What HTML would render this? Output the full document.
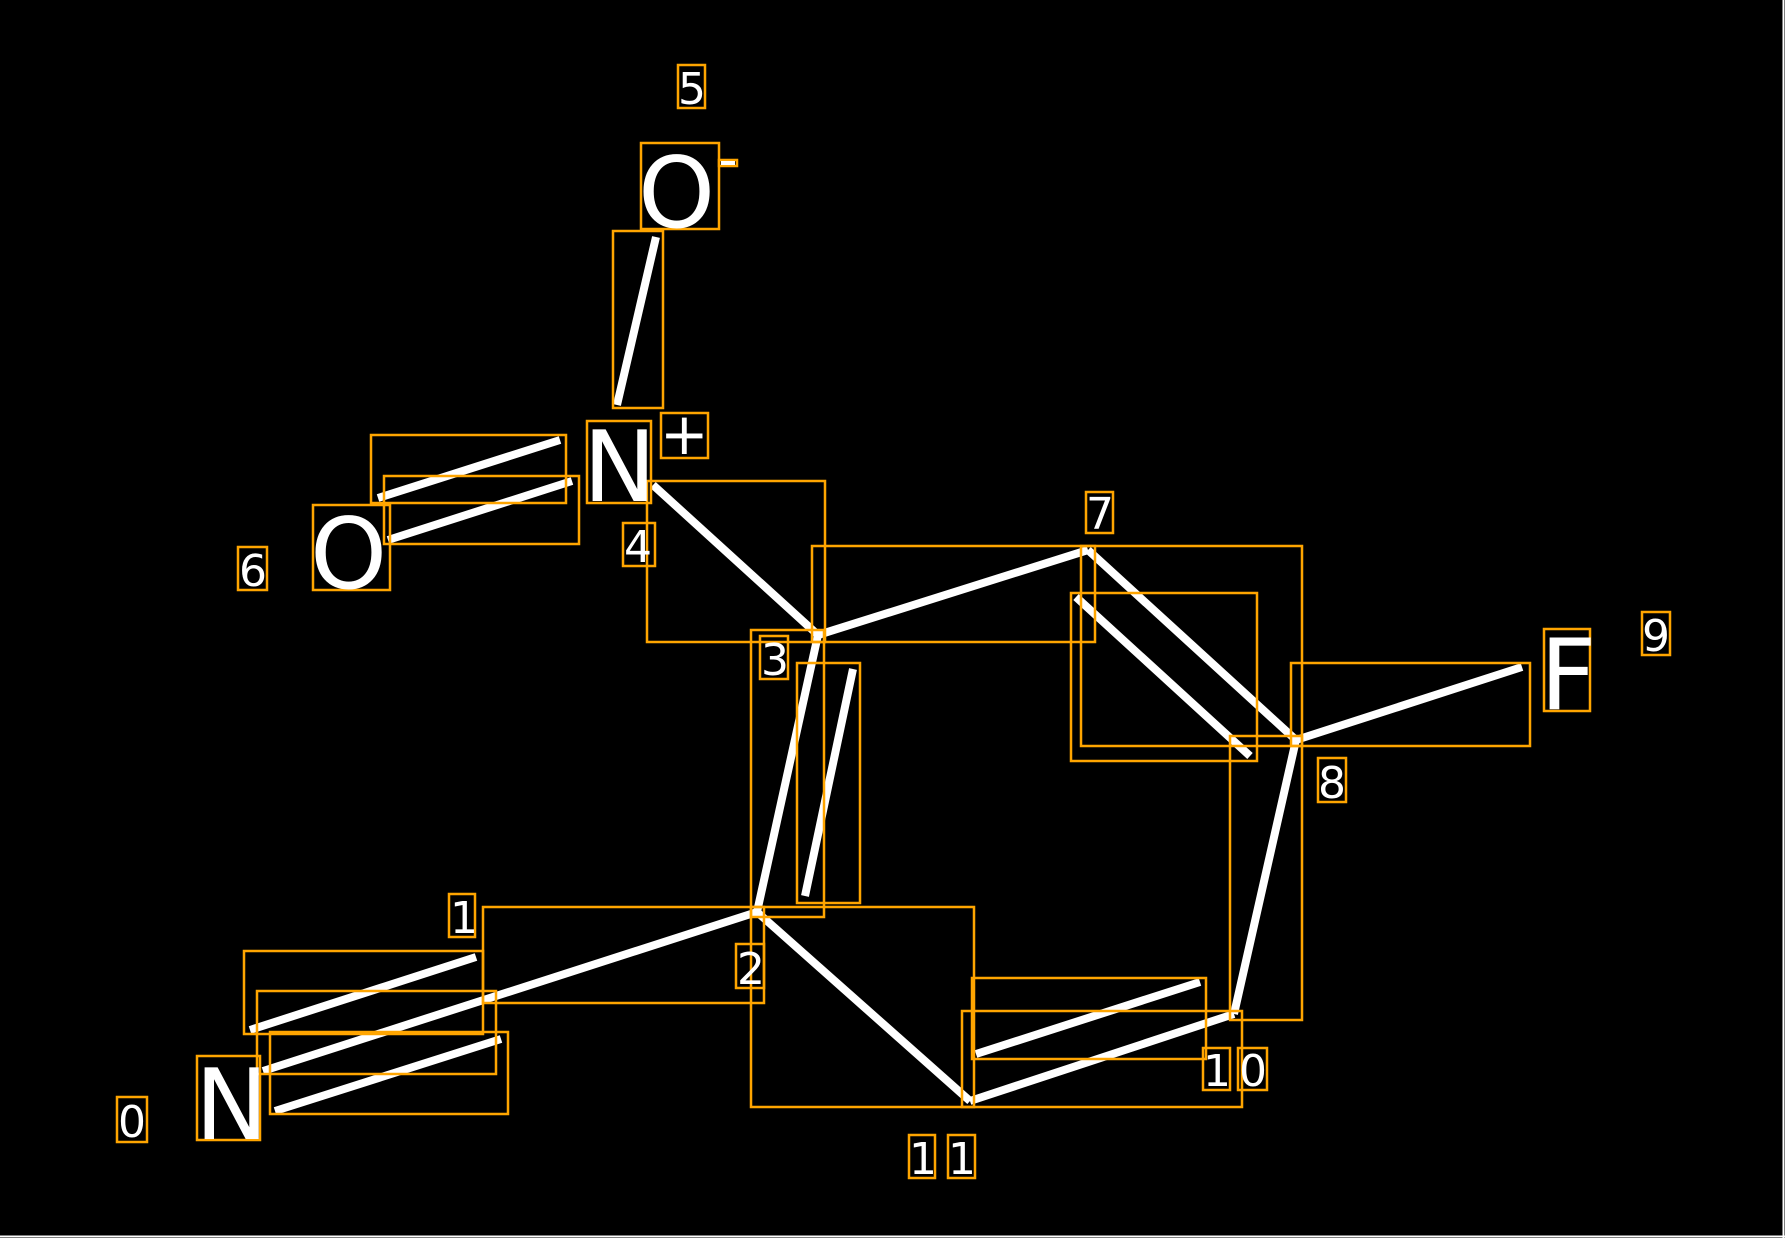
<!DOCTYPE html>
<html><head><meta charset="utf-8"><style>
html,body{margin:0;padding:0;background:#000;}
svg{display:block;}
text{font-family:"DejaVu Sans","Liberation Sans",sans-serif;fill:#fff;}
</style></head><body>
<svg width="1785" height="1238" viewBox="0 0 1785 1238" xmlns="http://www.w3.org/2000/svg">
<rect x="0" y="0" width="1785" height="1238" fill="#000"/>
<line x1="1783.5" y1="0" x2="1783.5" y2="1238" stroke="#fff" stroke-width="2"/>
<line x1="0" y1="1236.5" x2="1785" y2="1236.5" stroke="#fff" stroke-width="2"/>
<g stroke="#fff" stroke-width="8" stroke-linecap="butt">
<line x1="250" y1="1030" x2="476" y2="957"/>
<line x1="263" y1="1071" x2="757" y2="912"/>
<line x1="275" y1="1111" x2="501" y2="1039"/>
<line x1="757" y1="912" x2="818" y2="635"/>
<line x1="805" y1="896" x2="853" y2="669"/>
<line x1="818" y1="635" x2="653" y2="485"/>
<line x1="378" y1="498" x2="560" y2="440"/>
<line x1="388" y1="540" x2="572" y2="481"/>
<line x1="617" y1="405" x2="656" y2="237"/>
<line x1="818" y1="635" x2="1088" y2="550"/>
<line x1="1088" y1="550" x2="1296" y2="740"/>
<line x1="1076" y1="597" x2="1250" y2="756"/>
<line x1="1296" y1="740" x2="1522" y2="667"/>
<line x1="1296" y1="740" x2="1234" y2="1014"/>
<line x1="1234" y1="1014" x2="970" y2="1101"/>
<line x1="976" y1="1054" x2="1200" y2="982"/>
<line x1="970" y1="1101" x2="757" y2="912"/>
</g>
<g fill="none" stroke="#FFA500" stroke-width="2.5">
<rect x="678" y="65" width="27" height="43"/>
<rect x="641" y="143" width="78" height="86"/>
<rect x="719" y="160" width="18" height="6"/>
<rect x="613" y="231" width="50" height="177"/>
<rect x="587" y="421" width="64" height="82"/>
<rect x="661" y="413" width="47" height="45"/>
<rect x="371" y="435" width="195" height="68"/>
<rect x="384" y="476" width="195" height="68"/>
<rect x="313" y="505" width="77" height="85"/>
<rect x="238" y="547" width="29" height="43"/>
<rect x="623" y="523" width="32" height="43"/>
<rect x="647" y="481" width="178" height="161"/>
<rect x="812" y="546" width="283" height="96"/>
<rect x="1086" y="492" width="27" height="41"/>
<rect x="1081" y="546" width="221" height="200"/>
<rect x="1071" y="593" width="186" height="168"/>
<rect x="1544" y="629" width="46" height="82"/>
<rect x="1642" y="612" width="28" height="43"/>
<rect x="1291" y="663" width="239" height="83"/>
<rect x="1318" y="758" width="28" height="44"/>
<rect x="1230" y="736" width="72" height="284"/>
<rect x="1203" y="1048" width="27" height="42"/>
<rect x="1238" y="1048" width="29" height="42"/>
<rect x="972" y="978" width="234" height="81"/>
<rect x="962" y="1011" width="280" height="96"/>
<rect x="751" y="907" width="223" height="200"/>
<rect x="909" y="1135" width="26" height="43"/>
<rect x="948" y="1135" width="27" height="43"/>
<rect x="751" y="630" width="73" height="287"/>
<rect x="797" y="663" width="63" height="240"/>
<rect x="760" y="636" width="28" height="43"/>
<rect x="736" y="944" width="28" height="44"/>
<rect x="449" y="894" width="26" height="43"/>
<rect x="483" y="907" width="281" height="96"/>
<rect x="244" y="951" width="239" height="83"/>
<rect x="257" y="991" width="239" height="83"/>
<rect x="270" y="1032" width="238" height="82"/>
<rect x="197" y="1056" width="63" height="84"/>
<rect x="117" y="1097" width="30" height="45"/>
</g>
<g>
<text x="195" y="1139" font-size="98">N</text>
<text x="118" y="1137" font-size="44">0</text>
<text x="450" y="933" font-size="44">1</text>
<text x="737" y="984" font-size="44">2</text>
<text x="761" y="675" font-size="44">3</text>
<text x="624" y="562" font-size="44">4</text>
<text x="678" y="104" font-size="44">5</text>
<text x="239" y="586" font-size="44">6</text>
<text x="1086" y="529" font-size="44">7</text>
<text x="1318" y="798" font-size="44">8</text>
<text x="1642" y="651" font-size="44">9</text>
<text x="1203" y="1086" font-size="44">1</text>
<text x="1239" y="1086" font-size="44">0</text>
<text x="909" y="1174" font-size="44">1</text>
<text x="948" y="1174" font-size="44">1</text>
<text x="310" y="588" font-size="98">O</text>
<text x="638" y="227" font-size="98">O</text>
<text x="583" y="501" font-size="98">N</text>
<text x="1540" y="709" font-size="98">F</text>
<text x="660" y="454" font-size="58">+</text>
<rect x="721" y="161" width="14" height="4" fill="#fff"/>
</g>
</svg>
</body></html>
